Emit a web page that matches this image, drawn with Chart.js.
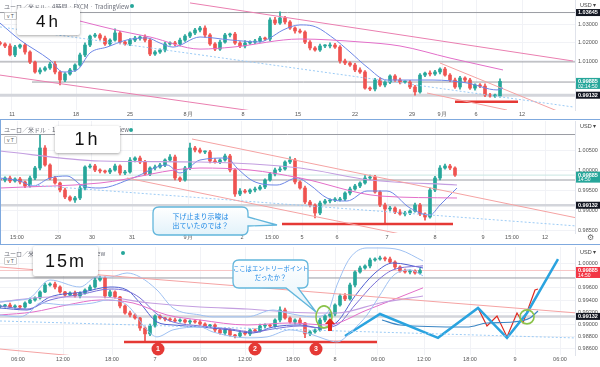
<!DOCTYPE html>
<html>
<head>
<meta charset="utf-8">
<script src="https://cdn.jsdelivr.net/npm/chart.js@4.4.0/dist/chart.umd.min.js"></script>
<style>
body{margin:0;width:600px;height:367px;overflow:hidden;background:#fff;position:relative;font-family:"Liberation Sans",Arial,sans-serif}
canvas{position:absolute;left:0}
.hdr{position:absolute;left:4px;font-size:6px;color:#6a6d78;white-space:nowrap;font-family:"Noto Sans CJK JP",sans-serif}
.dot{position:absolute;width:4px;height:4px;border-radius:2px;background:#26a69a}
.btn{position:absolute;left:4px;font-size:5px;color:#555;border:1px solid #ccc;border-radius:1px;padding:0 2px;line-height:6px;background:#fff}
.tf{position:absolute;background:#fff;box-shadow:0 1px 3px rgba(0,0,0,.35);border-radius:2px;color:#111;text-align:center;font-family:"Liberation Sans",Arial,sans-serif}
.sep{position:absolute;left:0;width:600px;height:1px;background:#7fa9de}
.note{position:absolute;color:#1e88e5;font-size:7px;line-height:9px;text-align:center;font-family:"Noto Sans CJK JP",sans-serif;white-space:nowrap}
svg{position:absolute;left:0;top:0}
</style>
</head>
<body>
<canvas id="c4h" width="600" height="119" style="top:0"></canvas>
<canvas id="c1h" width="600" height="121" style="top:121px"></canvas>
<canvas id="c15" width="600" height="117" style="top:247px"></canvas>

<div class="sep" style="top:119px"></div>
<div class="sep" style="top:244px"></div>
<div style="position:absolute;left:0;top:119px;width:1px;height:125px;background:#7fa9de"></div>

<div class="hdr" style="top:2px">ユーロ／米ドル · 4時間 · FXCM · TradingView</div>
<div class="dot" style="left:130px;top:4px"></div>
<div class="btn" style="top:12px">v T</div>
<div class="hdr" style="top:125px">ユーロ／米ドル · 1時間 · FXCM · TradingView</div>
<div class="dot" style="left:129px;top:128px"></div>
<div class="btn" style="top:136px">v T</div>
<div class="hdr" style="top:249px">ユーロ／米ドル · 15分 · TradingView</div>
<div class="dot" style="left:121px;top:251px"></div>
<div class="btn" style="top:257px">v T</div>

<div class="tf" style="left:17px;top:8px;width:63px;height:27px;font-size:17px;line-height:27px;letter-spacing:3px">4h</div>
<div class="tf" style="left:55px;top:126px;width:65px;height:27px;font-size:18px;line-height:27px;letter-spacing:3px">1h</div>
<div class="tf" style="left:33px;top:246px;width:65px;height:30px;font-size:18px;line-height:30px;letter-spacing:2px">15m</div>

<svg width="600" height="367">
<defs>
<linearGradient id="g" x1="0" y1="0" x2="0" y2="1"><stop offset="0" stop-color="#ffffff"/><stop offset="1" stop-color="#e2f2fa"/></linearGradient>
</defs>
<path d="M159,207 H242 Q248,207 248,213 V217 L277,225 L248,226 V229 Q248,235 242,235 H159 Q153,235 153,229 V213 Q153,207 159,207 Z" fill="url(#g)" stroke="#62b6dc" stroke-width="1.3"/>
<path d="M239,260 H302 Q308,260 308,266 V282 Q308,288 302,288 H298 L316,312 L286,288 H239 Q233,288 233,282 V266 Q233,260 239,260 Z" fill="url(#g)" stroke="#62b6dc" stroke-width="1.3"/>
</svg>
<div class="note" style="left:153px;top:212px;width:95px">下げ止まり示唆は<br>出ていたのでは？</div>
<div class="note" style="left:233px;top:264px;width:75px;font-size:6.3px">ここはエントリーポイント<br>だったか？</div>

<script>
// ---------- 4h ----------
var ticks4h = [2.4, 15.2, 26, 37.6, 48.6, 59.6, 71, 82.4, 88.4, 95.2, 104.4];
var labels4h = ['11', '18', '25', '8月', '8', '15', '22', '29', '9月', '6', '12'];
var yTicks4h = [1.03, 1.02, 1.01];
var open4h = 1.0200;
var close4h = [1.0193,1.0182,1.0133,1.0176,1.0187,1.0149,1.0094,1.0040,1.0051,1.0062,
  1.0083,1.0040,0.9996,1.0029,1.0051,1.0078,1.0133,1.0187,1.0236,1.0242,
  1.0225,1.0193,1.0214,1.0253,1.0203,1.0193,1.0214,1.0225,1.0231,1.0214,
  1.0138,1.0149,1.0160,1.0193,1.0198,1.0193,1.0214,1.0236,1.0253,1.0269,
  1.0280,1.0242,1.0193,1.0165,1.0203,1.0242,1.0247,1.0198,1.0182,1.0198,
  1.0203,1.0209,1.0225,1.0220,1.0324,1.0307,1.0335,1.0313,1.0280,1.0264,
  1.0258,1.0203,1.0171,1.0160,1.0182,1.0182,1.0187,1.0176,1.0100,1.0089,
  1.0078,1.0051,1.0040,0.9952,0.9947,0.9996,0.9969,0.9985,1.0018,0.9996,
  0.9985,0.9985,0.9958,0.9931,1.0023,1.0034,1.0029,1.0040,1.0056,1.0023,
  0.9996,0.9958,1.0007,0.9996,0.9952,0.9969,0.9963,0.9914,0.9909,0.9909,
  0.99885];
// wick lengths in pips
var up4h = [8,6,12,10,5,9,7,6,11,8, 10,14,6,8,9,7,10,12,6,9, 8,11,7,22,9,6,8,10,7,12,
  9,8,6,10,7,9,11,8,6,10, 9,12,8,7,11,9,6,10,8,14, 7,9,10,6,12,15,33,9,8,7,
  10,6,9,8,11,7,12,9,8,10, 6,9,11,8,7,10,12,9,6,8, 11,7,10,9,8,6,12,9,7,10,
  8,11,9,7,10,6,8,12,9,11, 14];
var dn4h = [7,9,6,10,8,12,9,7,11,6, 8,10,27,9,7,8,6,10,9,7, 11,8,9,6,10,7,9,8,12,10,
  9,7,8,10,6,9,11,7,8,9, 10,12,8,9,7,6,10,8,9,11, 7,9,6,8,10,9,7,11,8,12,
  6,9,10,7,8,9,11,8,12,9, 7,10,8,6,9,10,8,11,9,7, 10,8,9,17,7,9,11,8,10,6,
  9,8,12,10,7,11,8,9,6,8, 7];
var levels4h = [1.03645, 1.0095];
var blueMa4h = [[0,1.0307],[4,1.0215],[10,1.0105],[12.6,1.0040],[15.4,1.0051],[18,1.0144],[21.4,1.0176],
  [25.4,1.0215],[29.4,1.0226],[32,1.0198],[34.6,1.0176],[40,1.0231],[46,1.0215],[52,1.0204],[54,1.0226],
  [56.6,1.0269],[60,1.0297],[62.6,1.0291],[66.6,1.0226],[70,1.0149],[73.4,1.0067],[77.4,0.9996],
  [86.6,0.9996],[93.4,0.9980],[99.4,0.9942],[100.6,0.9953]];
var pinkMa4h = [[16,1.0318],[24,1.0264],[30,1.0231],[40,1.0165],[46.6,1.0176],[60,1.0220],[72,1.0204],
  [80,1.0182],[90,1.0116],[100.6,1.0051]];
var trendUp4h = [[38,1.0417],[114.6,1.0100]];
var trendLow4h = [[0,1.0023],[52,0.9821]];
var dotted4h = [[0,1.0286],[114.6,0.9849]];
var chanA4h = [[88,1.0089],[112,0.9821]];
var chanB4h = [[85.4,0.9925],[101.4,0.9832]];
var support4h = [[91,0.9878],[103.6,0.9878]];

// ---------- 1h ----------
var ticks1h = [3.4, 11.6, 18.4, 26.4, 37.6, 48.4, 54.4, 60.4, 67.4, 77.4, 87, 96.6, 102.4, 109];
var labels1h = ['15:00', '29', '30', '31', '9月', '2', '15:00', '5', '6', '7', '8', '9', '15:00', '12'];
var yTicks1h = [1.005, 1.0, 0.995, 0.99, 0.985];
var open1h = 0.99788;
var close1h = [0.99763,0.99813,0.99738,0.99788,0.99713,0.99613,0.99813,1.00063,1.00563,1.00138,
  0.99813,0.99688,0.99513,0.99338,0.99263,0.99313,0.99563,1.00088,1.00113,1.00013,
  0.99988,0.99963,1.00013,1.00113,0.99938,0.99963,1.00263,1.00313,1.00213,0.99913,
  1.00063,1.00088,1.00138,1.00263,1.00338,0.99813,0.99763,1.00063,1.00563,1.00513,
  1.00463,1.00463,1.00238,1.00213,1.00263,1.00363,1.00013,0.99413,0.99488,0.99463,
  0.99513,0.99538,0.99588,0.99763,0.99913,1.00013,1.00038,1.00213,1.00263,0.99713,
  0.99563,0.99213,0.99138,0.98938,0.99188,0.99238,0.99263,0.99263,0.99288,0.99438,
  0.99538,0.99613,0.99688,0.99813,0.99838,0.99463,0.99138,0.99038,0.99063,0.98963,
  0.98913,0.98938,0.98988,0.99138,0.98913,0.98838,0.99513,0.99813,1.00063,1.00113,
  1.00063,0.99885];
var up1h = [4,3,5,3,4,2,5,4,32,6, 3,4,2,5,3,4,6,3,5,4, 3,2,4,5,3,4,6,3,5,4,
  3,5,4,3,6,5,3,4,12,4, 5,3,4,6,3,5,4,3,6,4, 3,5,4,3,4,5,6,3,8,4,
  3,5,4,3,5,4,3,6,4,3, 5,4,3,6,5,4,3,5,4,3, 6,4,3,5,4,3,5,4,6,5, 4,3];
var dn1h = [3,5,4,3,5,4,3,4,5,3, 4,3,5,4,3,6,4,5,3,4, 5,3,4,3,5,4,3,5,4,3,
  4,5,3,4,3,5,4,3,4,5, 3,4,5,3,4,3,5,6,4,3, 4,5,3,4,3,5,4,3,4,5,
  3,4,5,12,4,3,5,4,3,4, 5,3,4,3,4,3,4,35,5,4, 3,5,4,3,4,8,3,4,5,3, 4,3];
var levels1h = [1.009, 0.99763];
var blueMa1h = [[0,0.99813],[4,0.99738],[6.6,0.99613],[10,0.99813],[13.4,0.99863],[16.6,0.99613],[20,0.99563],
  [26.6,0.99813],[33.4,1.00138],[36,0.99938],[40,1.00263],[45.4,1.00313],[47.4,1.00063],[50.6,0.99738],
  [55.4,0.99638],[59.4,0.99813],[62,0.99638],[65.4,0.99313],[69.4,0.99238],[73.4,0.99488],[77.4,0.99488],
  [82,0.99063],[86,0.98888],[88,0.99138],[91.4,0.99563]];
var lavMa1h = [[0,1.00488],[20,1.00238],[40,1.00213],[60,1.00063],[74,0.99763],[91.4,0.99638]];
var pinkMa1h = [[0,0.99563],[20,0.99688],[40,1.00063],[50,1.00013],[60,0.99813],[76,0.99363],[91.4,0.99313]];
var chanA1h = [[38.4,1.00788],[115.4,0.98813]];
var chanB1h = [[25.4,0.99813],[84,0.98313]];
var dotted1h = [[6,0.99638],[115.4,0.98613]];
var support1h = [[56.4,0.98663],[90.6,0.98663]];

// ---------- 15m ----------
var ticks15 = [3.6, 12.6, 22.4, 31, 40, 49, 58.6, 67, 75.6, 84.8, 94, 103, 112];
var labels15 = ['06:00', '12:00', '18:00', '7', '06:00', '12:00', '18:00', '8', '06:00', '12:00', '18:00', '9', '06:00'];
var yTicks15 = [1.0, 0.996, 0.994, 0.992, 0.99, 0.988, 0.986];
var open15 = 0.99290;
var close15 = [0.99303,0.99319,0.99286,0.99303,0.99286,0.99352,0.99401,0.99434,0.99533,0.99647,
  0.99663,0.99614,0.99533,0.99483,0.99516,0.99467,0.99516,0.99565,0.99614,0.99729,
  0.99762,0.99467,0.99533,0.99451,0.99303,0.99188,0.99155,0.99106,0.98942,0.98845,
  0.98975,0.99139,0.99106,0.99089,0.99073,0.99057,0.99073,0.99040,0.99057,0.99040,
  0.99007,0.98975,0.98991,0.98909,0.98860,0.98909,0.98827,0.98811,0.98860,0.98845,
  0.98909,0.98893,0.98975,0.98991,0.98975,0.99073,0.99237,0.99106,0.99040,0.99073,
  0.99024,0.98845,0.98878,0.98909,0.99073,0.99139,0.99171,0.99319,0.99467,0.99418,
  0.99647,0.99860,0.99926,0.99959,1.00057,1.00073,1.00090,1.00073,1.00024,0.99942,
  0.99877,0.99860,0.99877,0.99844,0.99885];
var up15 = [2,1,3,2,1,2,3,2,2,3, 2,3,2,1,2,3,2,2,3,4, 3,2,3,2,1,2,3,2,1,2,
  3,2,2,1,2,3,2,1,2,2, 3,2,1,2,2,3,2,1,2,3, 2,2,3,2,1,2,5,3,2,2,
  3,1,2,2,3,2,3,2,3,4, 3,2,3,2,3,2,3,2,3,2, 2,3,2,2,3];
var dn15 = [2,2,1,2,3,2,1,2,2,1, 2,3,2,2,1,2,3,2,1,2, 2,3,2,2,3,2,3,2,4,13,
  3,2,2,3,2,1,2,2,3,2, 2,3,2,3,2,3,2,3,2,2, 3,2,2,3,2,2,3,2,2,3,
  2,6,3,2,2,3,2,3,2,3, 2,3,2,2,3,2,2,3,2,3, 2,2,3,2,2];
var levels15 = [0.99762];
var bbUp15 = [[0,0.99368],[4,0.99401],[6,0.99434],[10,0.99729],[16,0.99614],[19.4,0.99778],[22,0.99778],
  [25.4,0.99844],[28,0.99778],[31.4,0.99565],[34.6,0.99270],[40,0.99155],[42.6,0.99124],[49.4,0.99124],
  [54.6,0.99237],[57.4,0.99188],[62.6,0.99124],[65.4,0.99188],[67.4,0.99647],[70,1.00090],[73.4,1.00254],
  [76,1.00254],[80,1.00221],[84.6,1.00041]];
var bbLow15 = [[0,0.99155],[4,0.99124],[6,0.99204],[8,0.99352],[13.4,0.99319],[18.6,0.99352],[21.4,0.99401],
  [25.4,0.99319],[29.4,0.98911],[31.4,0.98796],[34.6,0.98911],[40,0.98958],[42.6,0.98876],[49.4,0.98780],
  [53.4,0.98796],[58,0.98911],[62.6,0.98829],[65.4,0.98747],[67.4,0.98714],[70.6,0.98911],[73.4,0.99155],
  [76,0.99483],[78.6,0.99797],[82,0.99895],[84.6,0.99797]];
var maX15 = [0,5.4,10,16.6,22,25.4,28,31.4,34.6,40,46,50.6,54.6,60,64,67.4,71,75,78.6,84.6];
var maFast15 = [0.99270,0.99237,0.99450,0.99532,0.99614,0.99565,0.99352,0.99040,0.98991,0.98958,
  0.98911,0.98860,0.98958,0.98991,0.98944,0.99040,0.99467,0.99844,1.00008,0.99926];
var maMid15 = [0.99303,0.99253,0.99401,0.99500,0.99581,0.99549,0.99434,0.99171,0.99040,0.98975,
  0.98926,0.98876,0.98926,0.98975,0.98944,0.98991,0.99319,0.99682,0.99895,0.99961];
var pinkMa15 = [[0,0.99155],[6.6,0.99204],[13.4,0.99319],[20,0.99401],[26.6,0.99352],[33.4,0.99155],[40,0.99073],
  [49.4,0.98991],[58,0.99024],[65.4,0.98991],[73.4,0.99237],[84.6,0.99600]];
var lavMa15 = [[0,0.99368],[10,0.99450],[20,0.99450],[30,0.99352],[40,0.99286],[49.4,0.99253],[62.6,0.99188],
  [67.4,0.99188],[76,0.99352],[84.6,0.99467]];
var trendUp15 = [[0,0.99942],[115.4,0.99188]];
var trendLow15 = [[0,0.98597],[30,0.98368]];
var dotted15 = [[0,0.99057],[115.4,0.98778]];
var zigBlue15 = [[69,0.98811],[76,0.99171],[87.6,0.98780],[95.6,0.99270],[101.4,0.98780],[105.4,0.99188],[111.6,1.00073]];
var curve15 = [[76.4,0.99073],[80,0.98991],[93.4,0.98958],[97.4,0.99024],[102.6,0.99040],[106,0.99106],[107.6,0.99220]];
var zigRed15 = [[95.6,0.99270],[97.4,0.98975],[99.4,0.99139],[101.4,0.98796],[103.4,0.99188],[104.6,0.99024],[107,0.99565],[107.6,0.99581]];
var support15 = [[24.8,0.98714],[75.4,0.98714]];

var lastPrice = 0.99885;
var keyLevel = 0.99132;

function candles(open0, close, up, dn) {
  var body = [], wick = [], colors = [];
  var o = open0;
  for (var i = 0; i < close.length; i++) {
    var c = close[i];
    var lo = Math.min(o, c), hi = Math.max(o, c);
    body.push({x: i, y: [lo, hi]});
    wick.push({x: i, y: [lo - dn[i] / 10000, hi + up[i] / 10000]});
    colors.push(c >= o ? '#26a69a' : '#ef5350');
    o = c;
  }
  return [
    {type: 'bar', data: body, backgroundColor: colors, barThickness: 3, grouped: false, minBarLength: 1, order: 5},
    {type: 'bar', data: wick, backgroundColor: colors, barThickness: 1, grouped: false, order: 6}
  ];
}

function line(pts, color, width, dash, smooth, order) {
  return {
    type: 'line',
    data: pts.map(function (p) { return {x: p[0], y: p[1]}; }),
    borderColor: color, borderWidth: width || 1, borderDash: dash || [],
    pointRadius: 0, fill: false, order: order || 1,
    cubicInterpolationMode: smooth ? 'monotone' : 'default'
  };
}

function hline(v, x0, color, width, order) {
  return line([[x0, v], [115, v]], color, width, null, false, order || 8);
}

function zip(xs, ys) {
  return xs.map(function (x, i) { return [x, ys[i]]; });
}

function overlay(o) {
  return {
    id: 'overlay',
    afterDatasetsDraw: function (chart) {
      var ctx = chart.ctx, xs = chart.scales.x, ys = chart.scales.y;
      (o.ellipses || []).forEach(function (e) {
        ctx.save();
        ctx.strokeStyle = '#8bc34a';
        ctx.lineWidth = 1.6;
        ctx.beginPath();
        ctx.ellipse(xs.getPixelForValue(e[0]), ys.getPixelForValue(e[1]), e[2], e[3], 0, 0, Math.PI * 2);
        ctx.stroke();
        ctx.restore();
      });
      if (o.arrow) {
        var ax = xs.getPixelForValue(o.arrow[0]);
        var b = ys.getPixelForValue(o.arrow[1]), t = ys.getPixelForValue(o.arrow[2]);
        ctx.save();
        ctx.fillStyle = '#e0281e';
        ctx.fillRect(ax - 2, t + 5, 4, b - t - 5);
        ctx.beginPath();
        ctx.moveTo(ax - 5, t + 6);
        ctx.lineTo(ax, t);
        ctx.lineTo(ax + 5, t + 6);
        ctx.closePath();
        ctx.fill();
        ctx.restore();
      }
      (o.circles || []).forEach(function (c) {
        var cx = xs.getPixelForValue(c[0]), cy = ys.getPixelForValue(c[1]);
        ctx.save();
        ctx.fillStyle = '#e53935';
        ctx.beginPath();
        ctx.arc(cx, cy, 6.5, 0, Math.PI * 2);
        ctx.fill();
        ctx.fillStyle = '#fff';
        ctx.font = 'bold 7px "Liberation Sans"';
        ctx.textAlign = 'center';
        ctx.textBaseline = 'middle';
        ctx.fillText(c[2], cx, cy + 0.5);
        ctx.restore();
      });
    },
    afterDraw: function (chart) {
      var ctx = chart.ctx, ys = chart.scales.y, left = chart.chartArea.right + 1;
      ctx.save();
      ctx.font = '5.5px "Liberation Sans"';
      ctx.textBaseline = 'middle';
      ctx.fillStyle = '#444';
      ctx.fillText('USD ▾', left + 4, chart.chartArea.top + 5);
      (o.tags || []).forEach(function (t) {
        var py = ys.getPixelForValue(t[0]);
        var h = t[2] ? 11 : 7;
        ctx.fillStyle = t[1];
        ctx.fillRect(left, py - 3.5, 24, h);
        ctx.fillStyle = '#fff';
        ctx.font = 'bold 5.5px "Liberation Sans"';
        ctx.fillText(t[0].toFixed(5), left + 2, py);
        if (t[2]) {
          ctx.font = '5px "Liberation Sans"';
          ctx.fillText(t[2], left + 2, py + 5);
        }
      });
      if (o.gear) {
        ctx.fillStyle = '#666';
        ctx.font = '8px "DejaVu Sans"';
        ctx.fillText('⚙', left + 11, chart.chartArea.bottom + 5);
      }
      ctx.restore();
    }
  };
}

function build(id, yMin, yMax, tickX, tickLab, tickY, sets, ov) {
  new Chart(document.getElementById(id), {
    type: 'bar',
    data: {datasets: sets},
    options: {
      responsive: false,
      animation: false,
      events: [],
      devicePixelRatio: 1,
      layout: {padding: 0},
      plugins: {legend: {display: false}, tooltip: {enabled: false}},
      scales: {
        x: {
          type: 'linear', min: 0, max: 115, offset: false,
          afterFit: function (s) { s.height = 9; s.paddingLeft = 0; s.paddingRight = 0; },
          afterBuildTicks: function (s) { s.ticks = tickX.map(function (v) { return {value: v}; }); },
          ticks: {
            autoSkip: false, maxRotation: 0, padding: 1, color: '#555',
            font: {size: 5.5, family: 'Liberation Sans'},
            callback: function (v, i) { return tickLab[i]; }
          },
          grid: {color: '#f1f2f6', offset: false, drawTicks: false},
          border: {display: false}
        },
        y: {
          position: 'right', min: yMin, max: yMax,
          afterFit: function (s) { s.width = 25; s.paddingTop = 0; s.paddingBottom = 0; },
          afterBuildTicks: function (s) { s.ticks = tickY.map(function (v) { return {value: v}; }); },
          ticks: {
            padding: 3, color: '#555',
            font: {size: 5.5, family: 'Liberation Sans'},
            callback: function (v) { return v.toFixed(5); }
          },
          grid: {color: '#f1f2f6', drawTicks: false},
          border: {color: '#e0e3eb'}
        }
      }
    },
    plugins: [overlay(ov)]
  });
}

Chart.defaults.font.family = 'Liberation Sans';

// 4h panel
build('c4h', 0.98324, 1.0433, ticks4h, labels4h, yTicks4h,
  candles(open4h, close4h, up4h, dn4h).concat([
    hline(levels4h[0], 0, '#9a9ca3', 1),
    hline(levels4h[1], 0, '#9a9ca3', 1),
    hline(0.9985, 6.4, '#9a9ca3', 1),
    hline(keyLevel, 0, '#d3d5db', 3, 9),
    line(trendUp4h, '#ea7fb0', 1),
    line(trendLow4h, '#ea7fb0', 1),
    line(dotted4h, '#9ccbf5', 1, [2, 2]),
    line(pinkMa4h, '#e36fc9', 1, null, true),
    line(blueMa4h, '#6d86e6', 1, null, true),
    line(chanA4h, '#f5a3a3', 1),
    line(chanB4h, '#f5a3a3', 1),
    line(support4h, '#e53935', 2.5)
  ]),
  {tags: [[levels4h[0], '#131722'], [lastPrice, '#26a69a', '02:14:50'], [keyLevel, '#131722']]});

// 1h panel
build('c1h', 0.98438, 1.01238, ticks1h, labels1h, yTicks1h,
  candles(open1h, close1h, up1h, dn1h).concat([
    hline(levels1h[0], 0, '#9a9ca3', 1),
    hline(levels1h[1], 0, '#9a9ca3', 1),
    hline(lastPrice, 0, '#c9e6e2', 1),
    hline(keyLevel, 0, '#d3d5db', 2.5, 9),
    line(chanA1h, '#f5a3a3', 1),
    line(chanB1h, '#f5a3a3', 1),
    line(dotted1h, '#9ccbf5', 1, [2, 2]),
    line(lavMa1h, '#c39ee0', 1.2, null, true),
    line(pinkMa1h, '#e36fc9', 1, null, true),
    line(blueMa1h, '#6d86e6', 1, null, true),
    line(support1h, '#e53935', 2.5)
  ]),
  {tags: [[lastPrice, '#26a69a', '14:50'], [keyLevel, '#131722']], gear: true});

// 15m panel
build('c15', 0.98499, 1.0027, ticks15, labels15, yTicks15,
  candles(open15, close15, up15, dn15).concat([
    hline(levels15[0], 0, '#9a9ca3', 1),
    hline(lastPrice, 0, '#f7c6c6', 1),
    hline(keyLevel, 0, '#d3d5db', 2.5, 9),
    line(trendUp15, '#f5a3a3', 1),
    line(trendLow15, '#f5a3a3', 1),
    line(dotted15, '#9ccbf5', 1, [2, 2]),
    line(bbUp15, '#9fc1f2', 1, null, true),
    line(bbLow15, '#9fc1f2', 1, null, true),
    line(lavMa15, '#c39ee0', 1.2, null, true),
    line(pinkMa15, '#e36fc9', 1, null, true),
    line(zip(maX15, maMid15), '#7a6fd6', 1, null, true),
    line(zip(maX15, maFast15), '#4f5fd0', 1, null, true),
    line(support15, '#e53935', 2.5),
    line(zigBlue15, '#2aa3df', 2.5),
    line(curve15, '#3c86c4', 1.2, null, true),
    line(zigRed15, '#e0281e', 1.2)
  ]),
  {
    tags: [[lastPrice, '#f23645', '14:50'], [keyLevel, '#131722']],
    circles: [[31.6, 0.98597, '1'], [51, 0.98597, '2'], [63.2, 0.98597, '3']],
    ellipses: [[64.8, 0.99124, 8, 11], [105.4, 0.99124, 7, 7]],
    arrow: [66, 0.98893, 0.99106]
  });
</script>
</body>
</html>
